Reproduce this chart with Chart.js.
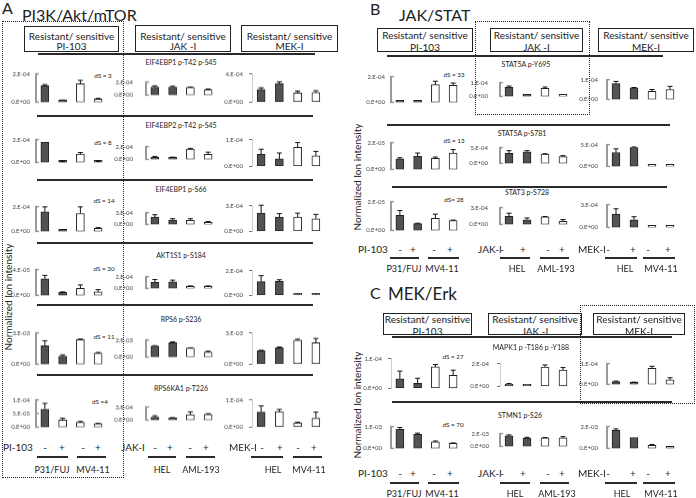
<!DOCTYPE html>
<html>
<head>
<meta charset="utf-8">
<script src="https://cdn.jsdelivr.net/npm/chart.js@4.4.1/dist/chart.umd.min.js"></script>
<style>
  body { margin: 0; background: #fff; }
  #fig { position: relative; width: 696px; height: 498px; overflow: hidden; font-family: Lato, sans-serif; color: #222; }
  #fig div { position: absolute; white-space: nowrap; line-height: 1; }
  #fig canvas { position: absolute; }
</style>
</head>
<body>
<div id="fig"></div>
<script>
// ---------- data ----------
const conditions = ['-', '+', '-', '+'];
const piCells = ['P31/FUJ', 'MV4-11'];
const jakCells = ['HEL', 'AML-193'];
const mekCells = ['HEL', 'MV4-11'];
const drugs = ['PI-103', 'JAK -I', 'MEK-I'];
const drugAxis = ['PI-103', 'JAK-I', 'MEK-I'];

// Panel A  PI3K/Akt/mTOR
const aSites = ['EIF4EBP1 p-T42 p-S45', 'EIF4EBP2 p-T42 p-S45', 'EIF4EBP1 p-S66', 'AKT1S1 p-S184', 'RPS6 p-S236', 'RPS6KA1 p-T226'];
const aDS = ['dS = 3', 'dS = 8', 'dS = 14', 'dS = 30', 'dS = 11', 'dS =4'];

const aPiTicks = [['2.E-04'], ['2.E-04'], ['2.E-04'], ['4.E-05'], ['3.E-03'], ['5.E-05', '1.E-04']];
const aPiMeans = [
  [1.15e-4, 0.12e-4, 1.30e-4, 0.22e-4],
  [1.75e-4, 0.04e-4, 0.72e-4, 0.06e-4],
  [1.58e-4, 0.12e-4, 1.44e-4, 0.25e-4],
  [2.56e-5, 0.46e-5, 1.08e-5, 0.54e-5],
  [1.76e-3, 0.75e-3, 2.34e-3, 1.05e-3],
  [0.66e-4, 0.26e-4, 0.18e-4, 0.13e-4]
];
const aPiErrs = [
  [0.09e-4, 0.03e-4, 0.24e-4, 0.05e-4],
  [0, 0.02e-4, 0.15e-4, 0.02e-4],
  [0.40e-4, 0.02e-4, 0.54e-4, 0.05e-4],
  [0.54e-5, 0.09e-5, 0.54e-5, 0.36e-5],
  [0.48e-3, 0.14e-3, 0.06e-3, 0.07e-3],
  [0.21e-4, 0.07e-4, 0.03e-4, 0.01e-4]
];

const aJakTicks = [['2.E-04'], ['2.E-04'], ['3.E-04'], ['2.E-04'], ['2.E-03'], ['3.E-04']];
const aJakMeans = [
  [1.23e-4, 1.23e-4, 1.18e-4, 0.83e-4],
  [0.29e-4, 0.21e-4, 1.60e-4, 0.78e-4],
  [1.85e-4, 1.13e-4, 1.05e-4, 0.45e-4],
  [1.04e-4, 1.10e-4, 0.27e-4, 0.27e-4],
  [1.30e-3, 1.67e-3, 1.06e-3, 0.58e-3],
  [0.66e-4, 0.47e-4, 1.25e-4, 1.30e-4]
];
const aJakErrs = [
  [0.18e-4, 0.11e-4, 0.05e-4, 0.09e-4],
  [0.18e-4, 0.14e-4, 0.12e-4, 0.35e-4],
  [0.61e-4, 0.32e-4, 0.40e-4, 0.27e-4],
  [0.46e-4, 0.30e-4, 0.15e-4, 0.15e-4],
  [0.03e-3, 0.11e-3, 0.02e-3, 0.11e-3],
  [0.33e-4, 0.08e-4, 0.63e-4, 0.16e-4]
];

const aMekTicks = [['4.E-04'], ['1.E-04'], ['3.E-04'], ['2.E-04'], ['3.E-03'], ['1.E-04']];
const aMekMeans = [
  [1.80e-4, 2.64e-4, 1.29e-4, 1.36e-4],
  [0.45e-4, 0.28e-4, 0.71e-4, 0.39e-4],
  [2.14e-4, 1.66e-4, 1.66e-4, 1.47e-4],
  [1.11e-4, 1.13e-4, 0.09e-4, 0.09e-4],
  [1.29e-3, 1.57e-3, 2.30e-3, 2.06e-3],
  [0.55e-4, 0.57e-4, 0.16e-4, 0.33e-4]
];
const aMekErrs = [
  [0.23e-4, 0.24e-4, 0.27e-4, 0.26e-4],
  [0.19e-4, 0.22e-4, 0.18e-4, 0.17e-4],
  [0.90e-4, 0.40e-4, 0.46e-4, 0.51e-4],
  [0.48e-4, 0.13e-4, 0.02e-4, 0.02e-4],
  [0.04e-3, 0.07e-3, 0.09e-3, 0.40e-3],
  [0.23e-4, 0.08e-4, 0.02e-4, 0.22e-4]
];

// Panel B  JAK/STAT
const bSites = ['STAT5A  p-Y695', 'STAT5A  p-S781', 'STAT3  p-S728'];
const bDS = ['dS = 33', 'dS = 13', 'dS= 28'];

const bPiTicks = [['2.E-04'], ['2.E-05'], ['2.E-05']];
const bPiMeans = [
  [0.02e-4, 0.02e-4, 1.38e-4, 1.33e-4],
  [0.78e-5, 0.99e-5, 0.82e-5, 1.22e-5],
  [1.05e-5, 0.47e-5, 0.83e-5, 0.68e-5]
];
const bPiErrs = [
  [0, 0, 0.26e-4, 0.17e-4],
  [0.09e-5, 0.23e-5, 0.10e-5, 0.26e-5],
  [0.33e-5, 0.03e-5, 0.30e-5, 0.04e-5]
];

const bJakTicks = [['1.E-04'], ['5.E-04'], ['3.E-04']];
const bJakMeans = [
  [0.66e-4, 0.02e-4, 0.59e-4, 0.02e-4],
  [3.18e-4, 3.69e-4, 2.96e-4, 2.12e-4],
  [1.45e-4, 0.83e-4, 1.33e-4, 0.53e-4]
];
const bJakErrs = [
  [0.09e-4, 0, 0.09e-4, 0],
  [0.85e-4, 0.34e-4, 0.09e-4, 0.34e-4],
  [0.55e-4, 0.32e-4, 0.07e-4, 0.35e-4]
];

const bMekTicks = [['1.E-04'], ['5.E-04'], ['3.E-04']];
const bMekMeans = [
  [0.80e-4, 0.59e-4, 0.41e-4, 0.50e-4],
  [3.18e-4, 4.33e-4, 0.15e-4, 0.20e-4],
  [1.75e-4, 1.00e-4, 0.07e-4, 0.05e-4]
];
const bMekErrs = [
  [0.11e-4, 0.01e-4, 0.09e-4, 0.16e-4],
  [0.85e-4, 0.12e-4, 0, 0],
  [0.70e-4, 0.40e-4, 0, 0]
];

// Panel C  MEK/Erk
const cSites = ['MAPK1 p  -T186 p -Y188', 'STMN1 p-S26'];
const cDS = ['dS = 27', 'dS = 70'];

const cPiTicks = [['1.E-04'], ['1.E-03']];
const cPiMeans = [
  [0.32e-4, 0.17e-4, 0.72e-4, 0.44e-4],
  [0.87e-3, 0.64e-3, 0.30e-3, 0.23e-3]
];
const cPiErrs = [
  [0.26e-4, 0.17e-4, 0.08e-4, 0.17e-4],
  [0.09e-3, 0.06e-3, 0.04e-3, 0.02e-3]
];

const cJakTicks = [['2.E-04'], ['2.E-03']];
const cJakMeans = [
  [0.21e-4, 0.16e-4, 1.70e-4, 1.44e-4],
  [1.67e-3, 1.29e-3, 1.34e-3, 1.34e-3]
];
const cJakErrs = [
  [0.04e-4, 0, 0.18e-4, 0.21e-4],
  [0.13e-3, 0.13e-3, 0.04e-3, 0.18e-3]
];

const cMekTicks = [['1.E-04'], ['2.E-03']];
const cMekMeans = [
  [0.13e-4, 0.09e-4, 0.77e-4, 0.22e-4],
  [1.66e-3, 1.00e-3, 0.29e-3, 0.12e-3]
];
const cMekErrs = [
  [0.03e-4, 0.02e-4, 0.10e-4, 0.10e-4],
  [0.13e-3, 0, 0.07e-3, 0.03e-3]
];

// ---------- layout ----------
const DARK = '#525252', WHITE = '#ffffff';
const fig = document.getElementById('fig');

function put(css, html) {
  const el = document.createElement('div');
  el.style.cssText = css;
  if (html != null) el.textContent = html;
  fig.appendChild(el);
  return el;
}
function text(x, y, s, size, align = 'center', extra = '') {
  const tx = align === 'center' ? '-50%' : align === 'right' ? '-100%' : '0';
  put(`left:${x}px;top:${y}px;transform:translate(${tx},-50%);font-size:${size}px;${extra}`, s);
}
function vtext(x, y, s, size) {
  put(`left:${x}px;top:${y}px;transform:translate(-50%,-50%) rotate(-90deg);font-size:${size}px;`, s);
}
function hline(x1, x2, y, w = 1.8) {
  put(`left:${x1}px;top:${y - w / 2}px;width:${x2 - x1}px;height:${w}px;background:#2a2a2a;`);
}
function dotted(x1, y1, x2, y2) {
  put(`left:${x1}px;top:${y1}px;width:${x2 - x1}px;height:${y2 - y1}px;border:1.5px dotted #222;box-sizing:border-box;`);
}
function header(x1, y1, x2, y2, l1, l2, drug) {
  put(`left:${x1}px;top:${y1}px;width:${x2 - x1}px;height:${y2 - y1}px;border:1.5px solid #222;box-sizing:border-box;`);
  text((x1 + x2) / 2, l1, 'Resistant/ sensitive', 10);
  text((x1 + x2) / 2, l2, drug, 10);
}

const errorBars = {
  id: 'errorBars',
  afterDatasetsDraw(chart, args, o) {
    const ctx = chart.ctx, y = chart.scales.y, vals = chart.data.datasets[0].data;
    ctx.save();
    ctx.strokeStyle = '#111';
    ctx.lineWidth = 1;
    chart.getDatasetMeta(0).data.forEach((bar, i) => {
      const e = o.errs[i];
      if (!e) return;
      const top = y.getPixelForValue(vals[i] + e);
      ctx.beginPath();
      ctx.moveTo(bar.x, bar.y);
      ctx.lineTo(bar.x, top);
      ctx.moveTo(bar.x - 2.5, top);
      ctx.lineTo(bar.x + 2.5, top);
      ctx.stroke();
    });
    ctx.restore();
  }
};

// short ends of the "[" shaped axis
const bracket = {
  id: 'bracket',
  afterDraw(chart, args, o) {
    if (!o.on) return;
    const ctx = chart.ctx, y = chart.scales.y, x0 = chart.chartArea.left;
    ctx.save();
    ctx.strokeStyle = '#999';
    ctx.lineWidth = 1.5;
    y.ticks.forEach(t => {
      const py = y.getPixelForValue(t.value);
      ctx.beginPath();
      ctx.moveTo(x0 - 1, py);
      ctx.lineTo(x0 + 3, py);
      ctx.stroke();
    });
    ctx.restore();
  }
};

function barChart(c) {
  const W = 34, padT = 4, padB = 4, padR = 4;
  const cv = document.createElement('canvas');
  const w = W + c.areaW + padR, h = c.zero - c.top + padT + padB;
  cv.width = w;
  cv.height = h;
  cv.style.cssText = `left:${c.ax - W}px;top:${c.top - padT}px;width:${w}px;height:${h}px;`;
  fig.appendChild(cv);

  const labels = ['0.E+00'].concat(c.ticks);
  const values = labels.map(Number);
  const light = c.style === 'light';

  new Chart(cv, {
    type: 'bar',
    data: {
      labels: conditions,
      datasets: [{
        data: c.means,
        backgroundColor: c.fills,
        borderColor: '#222',
        borderWidth: 1,
        borderSkipped: false,
        barThickness: 8,
        minBarLength: 2
      }]
    },
    options: {
      responsive: false,
      animation: false,
      devicePixelRatio: 1,
      layout: { padding: { left: 0, right: padR, top: padT, bottom: padB } },
      plugins: {
        legend: { display: false },
        tooltip: { enabled: false },
        errorBars: { errs: c.errs },
        bracket: { on: !light }
      },
      scales: {
        x: { display: false, offset: true },
        y: {
          min: 0,
          max: values[values.length - 1],
          afterFit: s => { s.width = W; },
          afterBuildTicks: s => { s.ticks = values.map(v => ({ value: v })); },
          ticks: {
            callback: (v, i) => labels[i],
            font: { family: 'Lato', size: 6 },
            color: '#444',
            padding: c.tickPad
          },
          grid: light
            ? { drawOnChartArea: false, drawTicks: true, tickLength: 3, color: '#777' }
            : { display: false, drawTicks: false },
          border: light ? { display: true, color: '#cfcfcf', width: 1 } : { display: true, color: '#9a9a9a', width: 2 }
        }
      }
    },
    plugins: [errorBars, bracket]
  });
}

function buildPanel(p) {
  p.cols.forEach((col, ci) => {
    col.means.forEach((m, r) => {
      const key = p.name + r + ci;
      const light = p.light.includes(key);
      barChart({
        ax: p.axisX[ci], areaW: p.areaW[ci],
        top: p.top[r][ci], zero: p.zero[r][ci],
        ticks: col.ticks[r], means: m, errs: col.errs[r],
        style: light ? 'light' : 'bracket',
        tickPad: p.tickPad[ci] - (light ? 3 : 0),
        fills: p.fillOverride[key] || [DARK, DARK, WHITE, WHITE]
      });
    });
  });
}

function bottomLabels(y, yl, yc, axisLeft, signs, unders, cells) {
  for (let k = 0; k < 3; k++) {
    text(axisLeft[k], y, drugAxis[k], 10, 'left');
    signs[k].forEach((sx, i) => text(sx, y, conditions[i], 10));
    unders[k].forEach(u => hline(u[0], u[1], yl, 2));
    cells[k].forEach((cx, i) => text(cx, yc, [piCells, jakCells, mekCells][k][i], 9));
  }
}

// ---------- panel A ----------
text(2, 8, 'A', 16, 'left');
text(22, 14.5, 'PI3K/Akt/mTOR', 16, 'left');
dotted(2, 21, 124, 478);
header(24, 26, 119, 52, 35.5, 46, drugs[0]);
header(135, 25, 231, 52, 35.5, 46, drugs[1]);
header(241, 25, 338, 52, 35.5, 46, drugs[2]);
hline(38, 315, 54.3);
[116, 180, 243, 305, 375].forEach(y => hline(37, 313, y));
vtext(8, 297, 'Normalized Ion intensity', 10);
[61.7, 125, 189, 255, 319, 388].forEach((y, i) => text(181, y, aSites[i], 7));
[[103, 76], [103, 142.7], [104, 201], [104, 269], [104, 337], [100, 402]].forEach((p, i) => text(p[0], p[1], aDS[i], 6.3));

buildPanel({
  name: 'A',
  axisX: [36, 145.5, 252], areaW: [71, 71, 73], tickPad: [6, 13, 9],
  top: [[68.3, 69.3, 68.3], [134, 134, 134], [200.7, 200, 200], [264, 264, 265], [327.3, 327.3, 327.3], [394.3, 394.3, 394.3]],
  zero: [[107.7, 107.7, 107.7], [168.3, 172.3, 172.3], [237.3, 237.3, 237.3], [301, 301, 301], [370, 370, 370], [432.7, 432.7, 432.7]],
  light: ['A02', 'A12', 'A22', 'A32', 'A42', 'A52'],
  fillOverride: { A50: [DARK, WHITE, WHITE, WHITE], A52: [DARK, WHITE, WHITE, WHITE] },
  cols: [
    { ticks: aPiTicks, means: aPiMeans, errs: aPiErrs },
    { ticks: aJakTicks, means: aJakMeans, errs: aJakErrs },
    { ticks: aMekTicks, means: aMekMeans, errs: aMekErrs }
  ]
});
bottomLabels(447, 457, 469, [3, 121, 229],
  [[45, 62, 83, 98], [155, 170, 190, 206], [262, 280, 298, 314]],
  [[[37, 68], [77, 106]], [[148, 176], [186, 215]], [[251, 283], [293, 322]]],
  [[52, 93], [162, 201], [273, 309]]);

// ---------- panel B ----------
text(370, 9, 'B', 16, 'left');
text(399, 14.5, 'JAK/STAT', 16, 'left');
dotted(475, 21, 590, 115);
header(377, 28, 473, 52, 35, 46.5, drugs[0]);
header(490, 28, 583, 52, 35, 46.5, drugs[1]);
header(598, 28, 694, 52, 35, 46.5, drugs[2]);
hline(387, 663, 56);
hline(387, 670, 125);
hline(392, 667, 186.7);
vtext(357, 177, 'Normalized Ion intensity', 10);
[[526, 64.3], [522, 133], [527, 191.7]].forEach((p, i) => text(p[0], p[1], bSites[i], 7));
[[454, 75], [454, 141], [454, 200]].forEach((p, i) => text(p[0], p[1], bDS[i], 6.3));

buildPanel({
  name: 'B',
  axisX: [391, 499.5, 607], areaW: [71, 72, 72], tickPad: [6, 12, 9],
  top: [[70.7, 70.7, 70.7], [136.7, 135.7, 135.7], [196, 196, 196]],
  zero: [[108.3, 108.3, 108.3], [175, 175, 175], [236, 236, 236]],
  light: [],
  fillOverride: {},
  cols: [
    { ticks: bPiTicks, means: bPiMeans, errs: bPiErrs },
    { ticks: bJakTicks, means: bJakMeans, errs: bJakErrs },
    { ticks: bMekTicks, means: bMekMeans, errs: bMekErrs }
  ]
});
bottomLabels(249.3, 258, 268, [358, 478, 578],
  [[400, 413, 434, 450], [502, 523, 548, 562], [608, 633, 648, 668]],
  [[[390, 419], [428, 459]], [[500, 530], [540, 569]], [[605, 637], [643, 675]]],
  [[404, 442], [517, 556], [625, 661]]);

// ---------- panel C ----------
text(370, 292.5, 'C', 16, 'left');
text(388, 293, 'MEK/Erk', 17, 'left');
dotted(580, 305, 695, 404);
header(383, 313, 472, 335, 319, 330.5, drugs[0]);
header(488, 313, 582, 335, 319, 330.5, drugs[1]);
header(593, 313, 685, 335, 319, 330.5, drugs[2]);
hline(392, 672, 337);
hline(392, 672, 402);
vtext(357, 405, 'Normalized Ion intensity', 10);
[[531, 347], [520, 415]].forEach((p, i) => text(p[0], p[1], cSites[i], 7));
[[453, 357.3], [453, 425]].forEach((p, i) => text(p[0], p[1], cDS[i], 6.3));

buildPanel({
  name: 'C',
  axisX: [391, 499.5, 607], areaW: [71, 72, 72], tickPad: [9, 11, 9],
  top: [[352.7, 356, 355], [418.3, 422.7, 418.3]],
  zero: [[394.3, 394, 393.3], [457.3, 457.3, 457.3]],
  light: ['C00', 'C01'],
  fillOverride: {},
  cols: [
    { ticks: cPiTicks, means: cPiMeans, errs: cPiErrs },
    { ticks: cJakTicks, means: cJakMeans, errs: cJakErrs },
    { ticks: cMekTicks, means: cMekMeans, errs: cMekErrs }
  ]
});
bottomLabels(473, 482.7, 493, [358, 478, 578],
  [[400, 413, 434, 450], [502, 523, 548, 562], [608, 633, 648, 668]],
  [[[390, 419], [428, 459]], [[500, 530], [540, 569]], [[605, 637], [643, 675]]],
  [[404, 442], [515, 557], [622, 661]]);
</script>
</body>
</html>
